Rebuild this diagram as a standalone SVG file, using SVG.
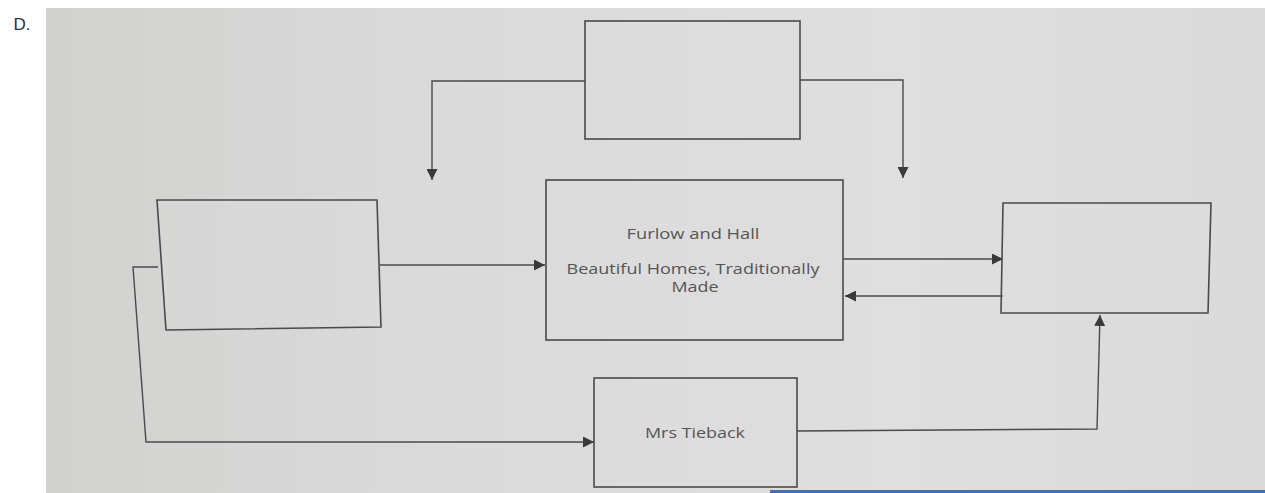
<svg xmlns="http://www.w3.org/2000/svg" width="1265" height="493" viewBox="0 0 1265 493">
  <style>
    .box { fill: #dedede; fill-opacity: 0.35; stroke: #4a4a4a; stroke-width: 1.6; }
    .conn { fill: none; stroke: #4a4a4a; stroke-width: 1.4; }
    .lbl { font-family: "Open Sans", "Liberation Sans", sans-serif; font-size: 15px; font-weight: 500; fill: #555555; text-anchor: middle; }
  </style>
  <defs>
    <linearGradient id="bg" x1="0" y1="0" x2="1" y2="0">
      <stop offset="0" stop-color="#d2d1cf"/>
      <stop offset="0.3" stop-color="#dadada"/>
      <stop offset="0.7" stop-color="#dfdfe0"/>
      <stop offset="1" stop-color="#dadada"/>
    </linearGradient>
    <marker id="arr" viewBox="0 0 10 10" refX="10" refY="5" markerWidth="11" markerHeight="11" markerUnits="userSpaceOnUse" orient="auto">
      <path d="M0,0 L10,5 L0,10 Z" fill="#3a3a3a"/>
    </marker>
  </defs>
  <rect x="0" y="0" width="1265" height="493" fill="#ffffff"/>
  <rect x="46" y="8" width="1219" height="485" fill="url(#bg)"/>
  <rect x="770" y="490" width="495" height="3" fill="#3b72b8"/>
  <text x="22" y="30" font-family="Liberation Sans, sans-serif" font-size="17" fill="#333333" text-anchor="middle">D.</text>

  <g id="connectors">
    <path class="conn" d="M585,81 H432 V180" marker-end="url(#arr)"/>
    <path class="conn" d="M800,80 H903 V178" marker-end="url(#arr)"/>
    <path class="conn" d="M380,265 H545" marker-end="url(#arr)"/>
    <path class="conn" d="M843,259 H1003" marker-end="url(#arr)"/>
    <path class="conn" d="M1003,296 H845" marker-end="url(#arr)"/>
    <path class="conn" d="M158,267 H133 L146,442 H594" marker-end="url(#arr)"/>
    <path class="conn" d="M797,431 L1097,429 L1100,315" marker-end="url(#arr)"/>
  </g>

  <g id="node-top">
    <rect class="box" x="585" y="21" width="215" height="118"/>
  </g>
  <g id="node-left">
    <polygon class="box" points="157,200 377,200 381,327 166,330"/>
  </g>
  <g id="node-center">
    <rect class="box" x="546" y="180" width="297" height="160"/>
    <text class="lbl" x="693" y="239" textLength="133" lengthAdjust="spacingAndGlyphs">Furlow and Hall</text>
    <text class="lbl" x="693" y="274" textLength="253" lengthAdjust="spacingAndGlyphs">Beautiful Homes, Traditionally</text>
    <text class="lbl" x="695" y="292" textLength="47" lengthAdjust="spacingAndGlyphs">Made</text>
  </g>
  <g id="node-right">
    <polygon class="box" points="1003,203 1211,203 1208,313 1001,313"/>
  </g>
  <g id="node-bottom">
    <rect class="box" x="594" y="378" width="203" height="109"/>
    <text class="lbl" x="695" y="438" textLength="100" lengthAdjust="spacingAndGlyphs">Mrs Tieback</text>
  </g>
</svg>
